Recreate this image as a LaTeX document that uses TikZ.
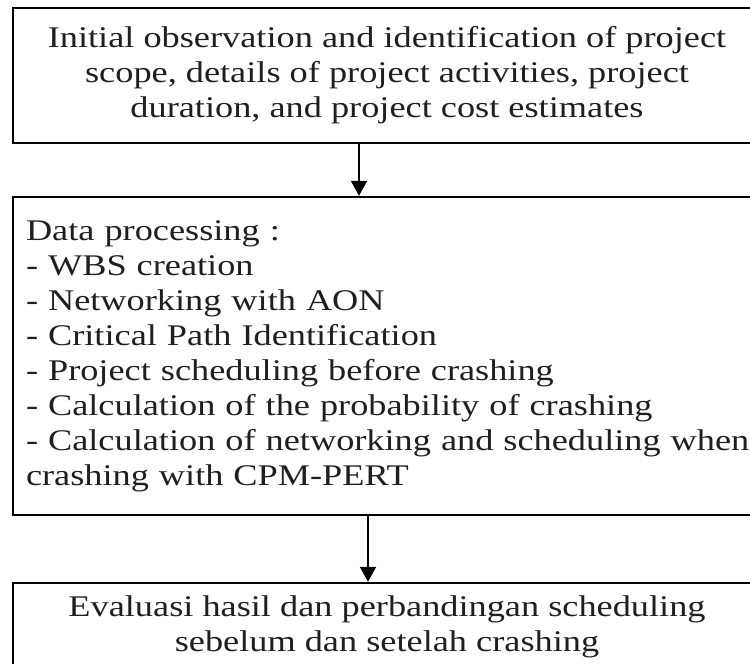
\documentclass[tikz,border=0pt]{standalone}
\usepackage{fontspec}
\newfontfamily\boxfont[FakeStretch=1.21]{Liberation Serif}
\usetikzlibrary{arrows.meta}
\tikzset{
  flowbox/.style={draw=black, line width=2.4pt, text=black!88,
    font=\boxfont\fontsize{30}{35}\selectfont, inner ysep=0pt, inner xsep=13pt},
  flowarrow/.style={line width=2pt, -{Triangle[length=15pt,width=16pt]}}
}
\begin{document}
\begin{tikzpicture}[x=1pt,y=-1pt]
\useasboundingbox (0,0) rectangle (750,664);
\clip (0,0) rectangle (750,664);
% first stage: observation
\node[flowbox, minimum width=748pt, minimum height=135pt, align=center] (obs) at (387,75.5)
  {Initial observation and identification of project\\
   scope, details of project activities, project\\
   duration, and project cost estimates};
% second stage: data processing steps (box runs past the right edge)
\node[flowbox, text width=750pt, minimum height=318pt, align=left] (proc) at (401,356)
  {Data processing :\\
   - WBS creation\\
   - Networking with AON\\
   - Critical Path Identification\\
   - Project scheduling before crashing\\
   - Calculation of the probability of crashing\\
   - Calculation of networking and scheduling when\\
   crashing with CPM-PERT};
% third stage: evaluation
\node[flowbox, minimum width=748pt, minimum height=87pt, align=center] (eval) at (387,626.5)
  {Evaluasi hasil dan perbandingan scheduling\\
   sebelum dan setelah crashing};
\coordinate (ax1) at (359,0);
\coordinate (ax2) at (368,0);
\draw[flowarrow] (obs.south -| ax1) -- (proc.north -| ax1);
\draw[flowarrow] (proc.south -| ax2) -- (eval.north -| ax2);
\end{tikzpicture}
\end{document}
